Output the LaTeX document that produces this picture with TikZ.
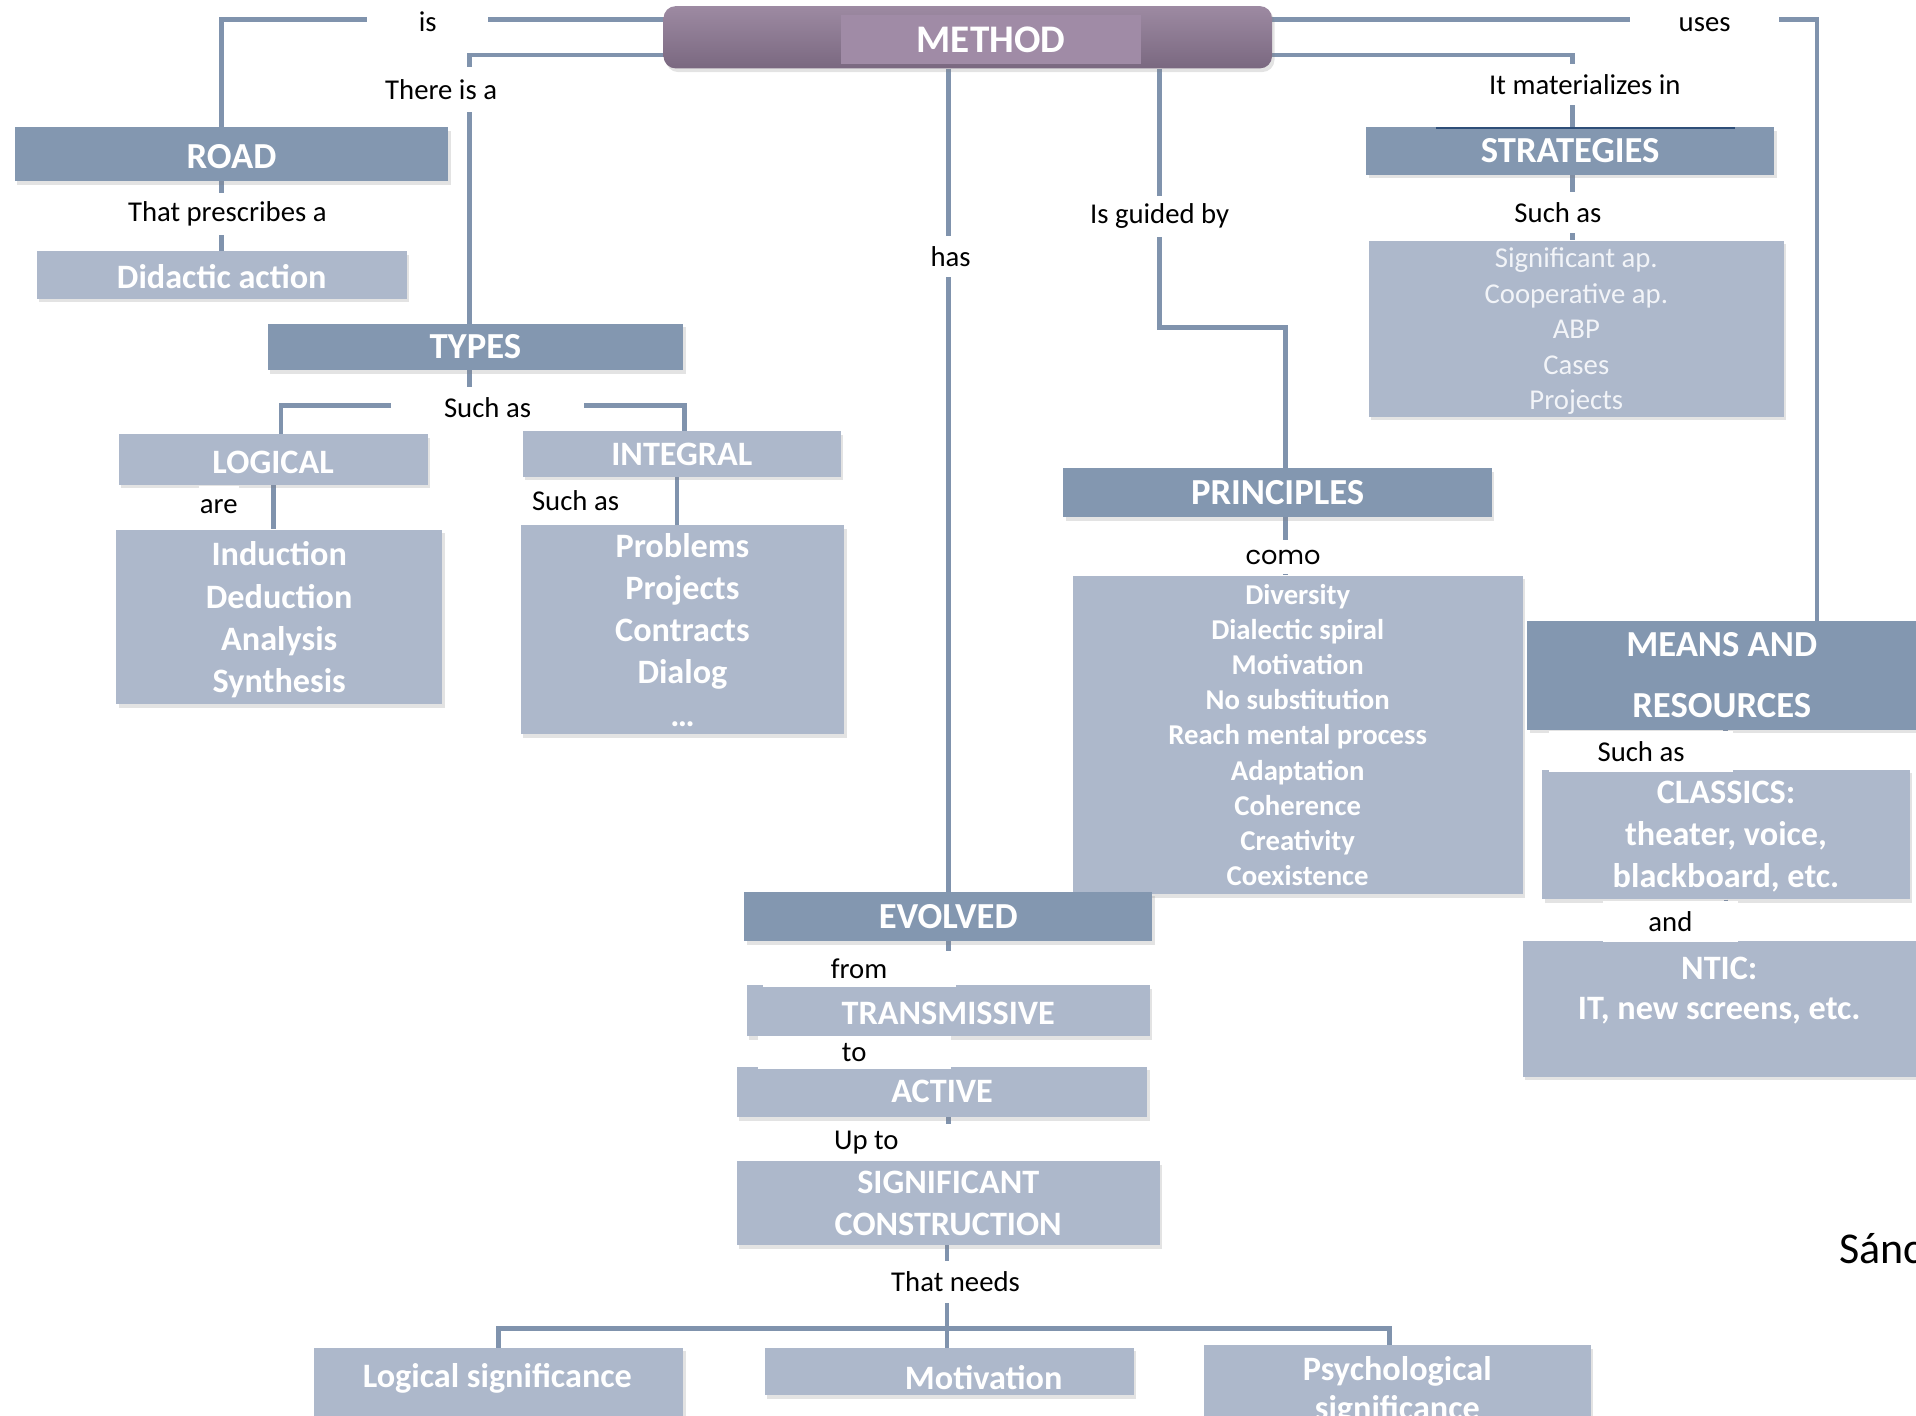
\documentclass[tikz,border=0pt]{standalone}
\usepackage{fontspec}
\setmainfont{Carlito}
\newfontfamily\comofont{Poppins}
\usetikzlibrary{shadows}
\definecolor{dk}{HTML}{8397B0}
\definecolor{lt}{HTML}{ADB8CB}
\definecolor{ln}{HTML}{8093AD}
\definecolor{mtop}{HTML}{9D8AA2}
\definecolor{mbot}{HTML}{7A6880}
\definecolor{methin}{HTML}{A08BA6}
\definecolor{softw}{HTML}{F2F4F8}
\definecolor{artline}{HTML}{2E4E78}
\pgfdeclarelayer{bg}
\pgfsetlayers{bg,main}
\begin{document}
\begin{tikzpicture}[x=1pt,y=-1pt,
  box/.style={draw=none, inner sep=0pt, align=center, text=white,
    drop shadow={shadow xshift=2pt,shadow yshift=-3pt,opacity=.22}},
  dbox/.style={box, fill=dk, font=\fontsize{30}{34}\selectfont\bfseries},
  lbox/.style={box, fill=lt, font=\fontsize{28}{34.5}\selectfont\bfseries},
  txt/.style={inner sep=0pt, align=center, text=white, font=\fontsize{28}{34}\selectfont\bfseries},
  lbl/.style={fill=white, inner sep=1pt, minimum height=34pt, font=\fontsize{23.5}{26}\selectfont, text=black},
  conn/.style={draw=ln, line width=4pt}]
\useasboundingbox (0,0) rectangle (1568,1158);

% ---------- boxes ----------
\node[box, rounded corners=10pt, minimum width=498pt, minimum height=51pt,
      top color=mtop, bottom color=mbot] (method) at (792,30.5) {};
\node[fill=methin, minimum width=246pt, minimum height=40pt, inner sep=0pt, text=white,
      text height=22pt, font=\fontsize{32}{36}\selectfont\bfseries] (methodtxt) at (811,32) {METHOD};

\node[dbox, minimum width=355pt, minimum height=44pt, text height=24pt] (road) at (189.5,126) {ROAD};
\node[lbox, minimum width=303pt, minimum height=39pt, text height=22pt] (didactic) at (181.5,225) {Didactic action};

\node[dbox, minimum width=340pt, minimum height=38pt] (types) at (389,284) {TYPES};
\node[lbox, minimum width=253pt, minimum height=41pt, text height=24pt] (logical) at (223.5,376) {LOGICAL};
\node[lbox, minimum width=267pt, minimum height=143pt, text depth=0pt] (loglist) at (228.5,505)
  {Induction\\Deduction\\Analysis\\Synthesis};
\node[lbox, minimum width=260pt, minimum height=37pt] (integral) at (558,371.5) {INTEGRAL};
\node[lbox, minimum width=265pt, minimum height=171pt] (intlist) at (558.5,515.5)
  {Problems\\Projects\\Contracts\\Dialog\\\dots};

\node[dbox, minimum width=334pt, minimum height=39pt] (strategies) at (1285,123.5) {STRATEGIES};
\node[lbox, minimum width=340pt, minimum height=144pt, text=softw, text depth=0pt,
      font=\fontsize{23.5}{29}\selectfont] (stratlist) at (1290,269)
  {Significant ap.\\Cooperative ap.\\ABP\\Cases\\Projects};

\node[dbox, minimum width=351pt, minimum height=40pt] (principles) at (1045.5,403) {PRINCIPLES};
\node[lbox, minimum width=368pt, minimum height=261pt,
      font=\fontsize{23.5}{28.75}\selectfont\bfseries] (princlist) at (1062,601.5)
  {Diversity\\Dialectic spiral\\Motivation\\No substitution\\Reach mental process\\Adaptation\\Coherence\\Creativity\\Coexistence};

\node[dbox, minimum width=318pt, minimum height=89pt, font=\fontsize{30}{50}\selectfont\bfseries]
  (means) at (1409,552.5) {MEANS AND\\RESOURCES};
\node[lbox, minimum width=301pt, minimum height=106pt, text depth=0pt] (classics) at (1412.5,683)
  {CLASSICS:\\theater, voice,\\blackboard, etc.};
\node[lbox, minimum width=322pt, minimum height=111pt, font=\fontsize{28}{33}\selectfont\bfseries]
  (ntic) at (1407,825.5) {NTIC:\\IT, new screens, etc.\\\mbox{}};

\node[dbox, minimum width=334pt, minimum height=40pt] (evolved) at (776,750) {EVOLVED};
\node[lbox, minimum width=330pt, minimum height=42pt, text height=23pt] (trans) at (776,827) {TRANSMISSIVE};
\node[lbox, minimum width=336pt, minimum height=41pt] (active) at (771,893.5) {ACTIVE};
\node[lbox, minimum width=346pt, minimum height=69pt] (sigcon) at (776,984.5)
  {SIGNIFICANT\\CONSTRUCTION};

\node[lbox, minimum width=302pt, minimum height=77pt] (logsig) at (408,1141.5) {};
\node[txt] (logsigtxt) at (407,1128) {Logical significance};
\node[lbox, minimum width=302pt, minimum height=39pt] (motiv) at (777,1122.5) {};
\node[txt] (motivtxt) at (805,1127) {Motivation};
\node[lbox, minimum width=317pt, minimum height=74pt, font=\fontsize{28}{32}\selectfont\bfseries]
  (psych) at (1143.5,1138) {Psychological\\significance};

\node[anchor=west, inner sep=0pt, font=\fontsize{36}{40}\selectfont] (author) at (1505,1022) {Sánchez};

% ---------- connectors ----------
\begin{pgfonlayer}{bg}
\draw[conn] ([yshift=14.5pt]method.west) -| ([xshift=-8.5pt]road.north);
\draw[conn] ([yshift=-14.5pt]method.west) -| ([xshift=-5pt]types.north);
\draw[conn] (evolved.north |- method.south) -- (evolved.north);
\draw[conn] ([xshift=157pt]method.south) -- ++(0,212) -| ([xshift=6.5pt]principles.north);
\draw[conn] ([yshift=14.5pt]method.east) -| ([xshift=78pt]means.north);
\draw[conn] ([yshift=-14.5pt]method.east) -| ([xshift=2pt]strategies.north);
\draw[conn] ([xshift=2pt]strategies.south) -- ([xshift=2pt]strategies.south |- stratlist.north);
\draw[conn] (didactic.north |- road.south) -- (didactic.north);
\coordinate (tj) at ([xshift=-5pt,yshift=-29pt]types.south);
\draw[conn] ([xshift=-5pt]types.south) -- (tj);
\draw[conn] ([xshift=6.5pt]logical.north) |- (tj) -| ([xshift=2pt]integral.north);
\draw[conn] (logical.south) -- (logical.south |- loglist.north);
\draw[conn] ([xshift=-4pt]integral.south) -- ([xshift=-4pt]integral.south |- intlist.north);
\draw[conn] ([xshift=6.5pt]principles.south) -- ([xshift=6.5pt]principles.south |- princlist.north);
\draw[conn] ([xshift=3pt]means.south) -- ([xshift=3pt]means.south |- classics.north);
\draw[conn] (classics.south) -- (classics.south |- ntic.north);
\draw[conn] (evolved.south) -- (trans.north);
\draw[conn] (trans.south) -- (trans.south |- active.north);
\draw[conn] (sigcon.north |- active.south) -- (sigcon.north);
\coordinate (nj) at ([xshift=-1pt,yshift=-68pt]sigcon.south);
\draw[conn] ([xshift=-1pt]sigcon.south) -- (nj);
\draw[conn] (logsig.north) |- (nj) -| ([xshift=-6.5pt]psych.north);
\draw[conn] (nj) -- (nj |- motiv.north);
\end{pgfonlayer}
\draw[artline, line width=1.5pt] ([xshift=-110pt,yshift=-1pt]strategies.north) -- ([xshift=135pt,yshift=-1pt]strategies.north);

% ---------- labels ----------
\node[lbl, minimum width=99pt] (lis) at (350,18) {is};
\node[lbl, minimum width=82pt, minimum height=37pt] (lthere) at (361,73) {There is a};
\node[lbl] (lhas) at (778,210) {has};
\node[lbl] (lguide) at (949,177) {Is guided by};
\node[lbl, minimum width=122pt] (luses) at (1395,20) {uses};
\node[lbl] (lmat) at (1297,69) {It materializes in};
\node[lbl] (lsuch1) at (1275,174) {Such as};
\node[lbl] (lpres) at (186,175) {That prescribes a};
\node[lbl, minimum width=158pt] (lsuch2) at (399,334) {Such as};
\node[lbl] (lare) at (179,415) {are};
\node[lbl] (lsuch3) at (471,410) {Such as};
\node[lbl, font=\comofont\fontsize{21}{24}\selectfont, minimum height=28pt] (lcomo) at (1050,456) {como};
\node[lbl, minimum width=150pt] (lsuch4) at (1343,615) {Such as};
\node[lbl, minimum width=110pt] (land) at (1367,754) {and};
\node[lbl, minimum width=158pt, minimum height=29pt] (lfrom) at (703,793) {from};
\node[lbl, minimum width=158pt, minimum height=27pt] (lto) at (699,861) {to};
\node[lbl, minimum width=158pt, minimum height=30pt] (lupto) at (709,935) {Up to};
\node[lbl] (lneeds) at (782,1049) {That needs};
\end{tikzpicture}
\end{document}
